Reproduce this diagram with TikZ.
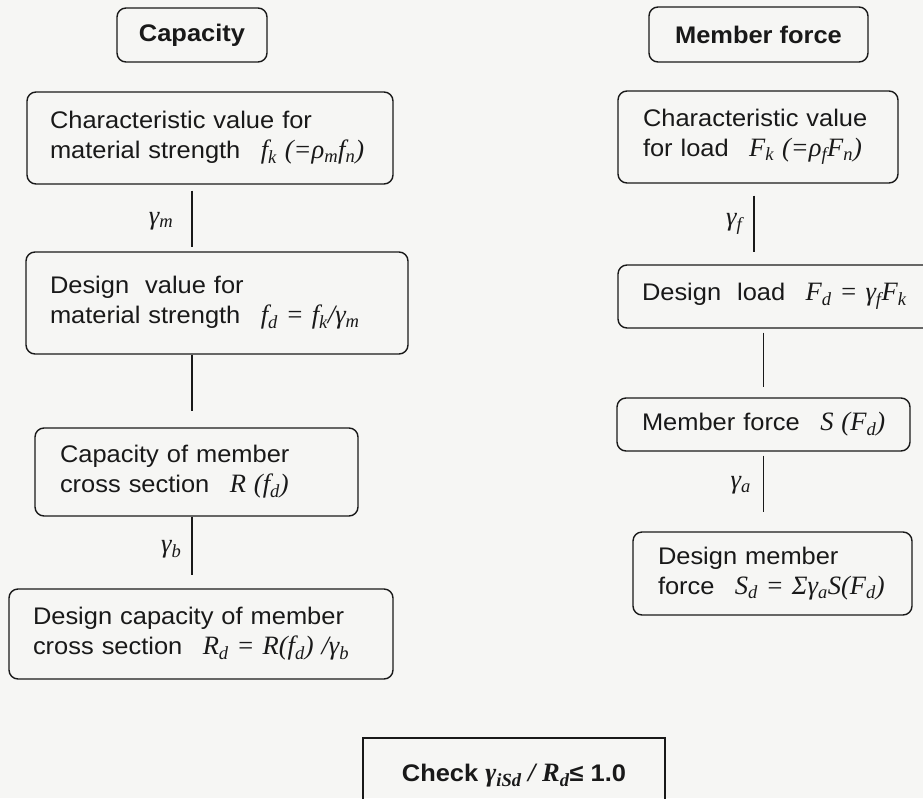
\documentclass[tikz,border=0pt]{standalone}
\usepackage{fontspec}
\setmainfont{Liberation Sans}[FakeStretch=1.06]
\newfontfamily\tms{Liberation Serif}
\newcommand{\bigtxt}{\fontsize{24}{30}\selectfont}
\newcommand{\fml}[1]{{\fontsize{26.5}{30}\selectfont\tms\itshape #1}}
\newcommand{\sbs}[1]{\textsubscript{#1}}
\newcommand{\gap}{\nobreak\hspace{0.85em}}
\definecolor{paper}{RGB}{246,246,244}
\definecolor{ink}{RGB}{25,25,25}
\tikzset{box/.style={draw=ink, line width=1.4pt, rounded corners=9pt, align=left, inner ysep=0pt},
         head/.style={draw=ink, line width=1.4pt, rounded corners=9pt, inner sep=0pt},
         checkbox/.style={draw=ink, line width=1.4pt, inner sep=0pt},
         link/.style={draw=ink, line width=1.4pt},
         lab/.style={midway, inner sep=0pt, font=\fontsize{26.5}{30}\selectfont\tms\itshape}}

\begin{document}
\begin{tikzpicture}[x=1pt,y=-1pt,font=\bigtxt,text=ink]
\useasboundingbox (0,0) rectangle (923,798);
\clip (0,0) rectangle (923,798);
\fill[paper] (0,0) rectangle (923,798);

% capacity side
\node[head, minimum width=150pt, minimum height=54pt] (capH) at (192,35) {\bfseries Capacity};
\node[box, inner xsep=23pt, text width=320pt, minimum height=92pt] (l1) at (210,138)
  {Characteristic~value~for\\material~strength\gap\fml{f\sbs{k}~(=ρ\sbs{m}f\sbs{n})}};
\node[box, inner xsep=24pt, text width=334pt, minimum height=102pt] (l2) at (217,303)
  {Design~~value~for\\material~strength\gap\fml{f\sbs{d}~=~f\sbs{k}/γ\sbs{m}}};
\node[box, inner xsep=25pt, text width=273pt, minimum height=88pt] (l3) at (196.5,472)
  {Capacity~of~member\\cross~section\gap\fml{R~(f\sbs{d})}};
\node[box, inner xsep=24pt, text width=336pt, minimum height=90pt] (l4) at (201,634)
  {Design~capacity~of~member\\cross~section\gap\fml{R\sbs{d}~=~R(f\sbs{d})~/γ\sbs{b}}};

\draw[link, shorten <=6pt, shorten >=4pt] (l1.south -| capH) -- node[lab, left=18pt, yshift=-3pt] {γ\sbs{m}} (l2.north -| capH);
\draw[link, shorten >=16pt] (l2.south -| capH) -- (l3.north -| capH);
\draw[link, shorten >=13pt] (l3.south -| capH) -- node[lab, left=10pt, yshift=3pt] {γ\sbs{b}} (l4.north -| capH);

% member force side
\node[head, minimum width=219pt, minimum height=55pt] (forceH) at (758.5,34.5) {\bfseries Member force};
\node[box, inner xsep=25pt, text width=230pt, minimum height=92pt] (r1) at (758,137)
  {Characteristic~value\\for~load\gap\fml{F\sbs{k}~(=ρ\sbs{f}F\sbs{n})}};
\node[box, inner xsep=24pt, text width=269pt, minimum height=63pt] (r2) at (776.5,296.5)
  {Design~~load\gap\fml{F\sbs{d}~=~γ\sbs{f}F\sbs{k}}};
\node[box, inner xsep=25pt, text width=243pt, minimum height=53pt] (r3) at (763.5,424.5)
  {Member~force\gap\fml{S~(F\sbs{d})}};
\node[box, inner xsep=25pt, text width=229pt, minimum height=83pt] (r4) at (772.5,573.5)
  {Design~member\\force\gap\fml{S\sbs{d}~=~Σγ\sbs{a}S(F\sbs{d})}};

\draw[link, shorten <=12pt, shorten >=12pt] ([xshift=-4pt]r1.south) -- node[lab, left=11pt] {γ\sbs{f}} ([xshift=-4pt]r1.south |- r2.north);
\draw[link, shorten <=4pt, shorten >=10pt] (r2.south -| r3) -- (r3.north);
\draw[link, shorten <=4pt, shorten >=19pt] (r3.south) -- node[lab, left=12pt, yshift=6pt] {γ\sbs{a}} (r3.south |- r4.north);

% check
\node[checkbox, minimum width=302pt, minimum height=76pt] (check) at (514,776)
  {\bfseries Check \fml{\bfseries γ\sbs{iSd} / R\sbs{d}}≤ 1.0};
\end{tikzpicture}
\end{document}
